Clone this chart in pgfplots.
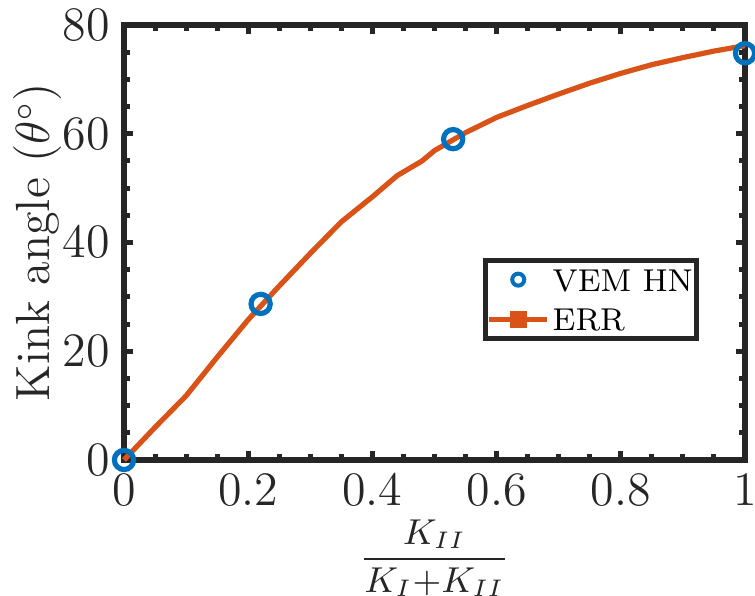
\documentclass[border=0pt]{standalone}
\usepackage{pgfplots}
\pgfplotsset{compat=1.18}
\usetikzlibrary{calc}
\definecolor{mblue}{HTML}{0072BD}
\definecolor{morange}{HTML}{D95319}
\definecolor{mgray}{HTML}{262626}

\begin{document}
\begin{tikzpicture}
\begin{axis}[
  name=ax,
  scale only axis,
  width=155.25pt, height=108.75pt,
  xmin=0, xmax=1, ymin=0, ymax=80,
  xtick={0,0.2,0.4,0.6,0.8,1},
  ytick={0,20,40,60,80},
  minor x tick num=3, minor y tick num=3,
  tick align=inside,
  major tick length=2.3pt, minor tick length=1.5pt,
  tick style={mgray, line width=1.25pt},
  axis line style={mgray, line width=1.4pt},
  tick label style={font=\fontsize{11.5}{13}\selectfont, text=mgray},
  xlabel={$\displaystyle\frac{K_{II}}{K_I{+}K_{II}}$},
  xlabel style={at={(axis description cs:0.5,-0.2264)}, anchor=center,
    font=\fontsize{9}{10}\selectfont, text=mgray},
  ylabel={Kink angle ($\theta^{\circ}$)},
  ylabel style={at={(axis description cs:-0.1385,0.5)}, anchor=center,
    font=\fontsize{12}{14}\selectfont, text=mgray},
  clip=false,
  legend cell align=left,
  legend style={at={(rel axis cs:0.578,0.464)}, anchor=north west,
    draw=mgray, line width=1.25pt, fill=white,
    font=\fontsize{7.9}{10}\selectfont, text=black,
    inner xsep=0.3pt, inner ysep=0.6pt, row sep=1.6pt,
    nodes={inner xsep=0.7pt, inner ysep=1pt, text height=6pt, text depth=0.3pt}},
]
\addplot[only marks, mark=o, mark size=2.4pt, mblue, line width=1.3pt,
  legend image code/.code={\draw[mblue, line width=1pt] (7.25pt,0pt) circle (1.5pt);}]
  coordinates {(0,0) (0.22,28.7) (0.53,59.0) (1,74.8)};
\addlegendentry{VEM HN}
\addplot[no markers, morange, line width=1.3pt,
  legend image code/.code={\draw[morange, line width=1.3pt] (0pt,0pt) -- (14.5pt,0pt);
    \fill[morange] (5.75pt,-1.5pt) rectangle (8.75pt,1.5pt);}]
  coordinates {
  (0,0) (0.05,6.0) (0.10,11.8) (0.15,18.9) (0.20,25.8) (0.25,32.0)
  (0.30,38.0) (0.35,43.8) (0.40,48.4) (0.44,52.3) (0.48,55.0) (0.50,56.9)
  (0.55,60.2) (0.60,63.0) (0.65,65.2) (0.70,67.3) (0.75,69.3) (0.80,71.1)
  (0.85,72.7) (0.90,74.0) (0.95,75.2) (1,76.2)
  };
\addlegendentry{ERR}
\end{axis}
\pgfresetboundingbox
\path[use as bounding box] ($(ax.south west)+(-31pt,-34pt)$) rectangle ($(ax.north east)+(2.5pt,6.25pt)$);
\end{tikzpicture}
\end{document}
